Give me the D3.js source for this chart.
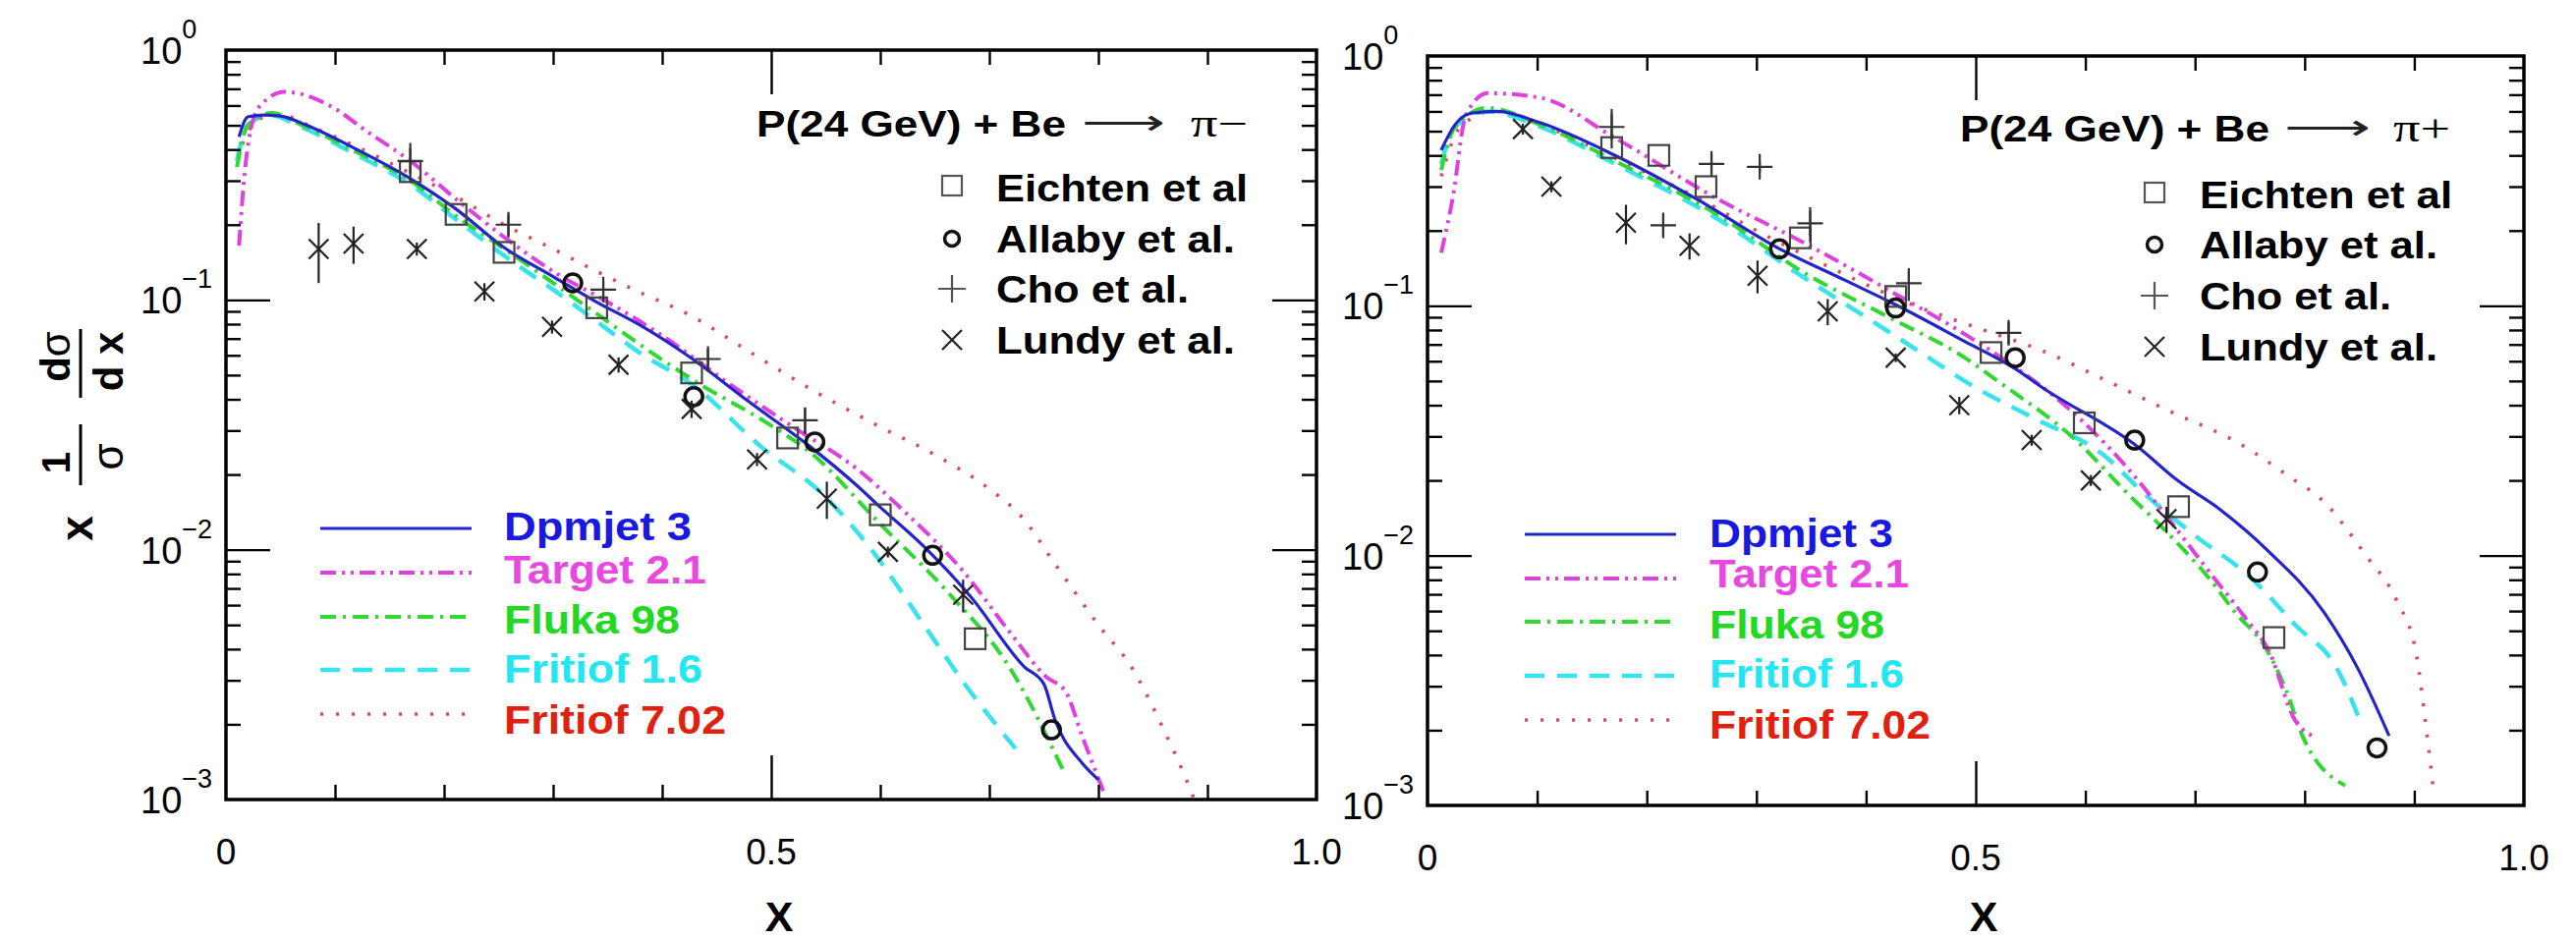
<!DOCTYPE html>
<html>
<head>
<meta charset="utf-8">
<script src="https://cdn.jsdelivr.net/npm/d3@7"></script>
<style>
  body { margin: 0; background: #fff; }
  svg { display: block; }
</style>
</head>
<body>
<svg id="chart" width="2622" height="956"></svg>
<script>
/* Invariant cross sections x (1/sigma) dsigma/dx, P(24 GeV) + Be -> pi-/pi+ */

// ---------------- data ----------------
const xTicksMinor = [0.1, 0.2, 0.3, 0.4, 0.6, 0.7, 0.8, 0.9];
const xTicksMajor = [0.5];
const xTickLabels = [[0, "0"], [0.5, "0.5"], [1, "1.0"]];
const yDecades = [0, -1, -2, -3];
const modelNames = ["Dpmjet 3", "Target 2.1", "Fluka 98", "Fritiof 1.6", "Fritiof 7.02"];
const expNames = ["Eichten et al", "Allaby et al.", "Cho et al.", "Lundy et al."];

// pi- panel, model curves [x, value]
const piMinusDpmjet = [[0.012,0.45],[0.02,0.54],[0.035,0.55],[0.05,0.545],[0.074,0.50],[0.12,0.40],[0.169,0.306],[0.211,0.231],[0.255,0.162],[0.30,0.124],[0.34,0.098],[0.378,0.080],[0.423,0.060],[0.48,0.039],[0.535,0.026],[0.579,0.018],[0.60,0.0148],[0.64,0.0103],[0.684,0.0064],[0.732,0.0034],[0.75,0.0029],[0.76,0.0021],[0.785,0.0014],[0.80,0.0012]];
const piMinusTarget = [[0.012,0.165],[0.018,0.35],[0.03,0.59],[0.054,0.68],[0.095,0.60],[0.13,0.47],[0.169,0.36],[0.215,0.245],[0.26,0.172],[0.30,0.13],[0.35,0.098],[0.40,0.072],[0.459,0.047],[0.52,0.031],[0.579,0.021],[0.62,0.0145],[0.676,0.0082],[0.72,0.0046],[0.752,0.0031],[0.77,0.0027],[0.785,0.0018],[0.806,0.00104]];
const piMinusFluka = [[0.01,0.34],[0.02,0.50],[0.042,0.56],[0.07,0.50],[0.12,0.39],[0.169,0.30],[0.211,0.217],[0.26,0.155],[0.30,0.117],[0.34,0.088],[0.378,0.067],[0.431,0.047],[0.499,0.0316],[0.535,0.0247],[0.599,0.0128],[0.66,0.0069],[0.72,0.0033],[0.768,0.0013]];
const piMinusFritiof16 = [[0.01,0.36],[0.02,0.50],[0.04,0.55],[0.07,0.49],[0.12,0.38],[0.169,0.29],[0.211,0.21],[0.26,0.145],[0.30,0.11],[0.34,0.082],[0.378,0.062],[0.43,0.045],[0.49,0.026],[0.547,0.0167],[0.592,0.010],[0.64,0.0050],[0.68,0.0028],[0.724,0.0016]];
const piMinusFritiof702 = [[0.015,0.42],[0.03,0.53],[0.05,0.55],[0.08,0.49],[0.12,0.41],[0.17,0.32],[0.21,0.26],[0.255,0.20],[0.30,0.16],[0.34,0.13],[0.378,0.108],[0.423,0.088],[0.48,0.062],[0.54,0.043],[0.60,0.031],[0.65,0.024],[0.70,0.0175],[0.73,0.0135],[0.76,0.0088],[0.80,0.0050],[0.832,0.0033],[0.86,0.0019],[0.879,0.00125],[0.888,0.001]];

// pi- panel, measurements [x, value] or [x, value, fractional error]
const piMinusEichten = [[0.169,0.326],[0.211,0.22],[0.255,0.155],[0.34,0.093],[0.427,0.051],[0.515,0.028],[0.60,0.0138],[0.687,0.0044]];
const piMinusAllaby = [[0.318,0.117],[0.429,0.041],[0.54,0.027],[0.648,0.0095],[0.757,0.0019]];
const piMinusCho = [[0.169,0.36,0.18],[0.259,0.20,0.10],[0.346,0.11,0.08],[0.442,0.058,0.10],[0.531,0.033,0.12]];
const piMinusLundy = [[0.085,0.16,0.27],[0.117,0.168,0.17],[0.175,0.16,0.06],[0.237,0.108,0.08],[0.299,0.078,0.06],[0.36,0.055,0.07],[0.427,0.0366,0.08],[0.487,0.023,0.06],[0.551,0.016,0.17],[0.607,0.0098,0.05],[0.676,0.0066,0.15]];

// pi+ panel, model curves
const piPlusDpmjet = [[0.0125,0.42],[0.025,0.53],[0.04,0.59],[0.063,0.60],[0.103,0.54],[0.171,0.40],[0.247,0.265],[0.319,0.171],[0.38,0.127],[0.427,0.101],[0.49,0.072],[0.536,0.056],[0.561,0.047],[0.649,0.027],[0.684,0.020],[0.722,0.0154],[0.764,0.0107],[0.818,0.0059],[0.849,0.0035],[0.877,0.0019]];
const piPlusTarget = [[0.0125,0.163],[0.023,0.27],[0.035,0.58],[0.055,0.71],[0.103,0.68],[0.171,0.47],[0.263,0.27],[0.343,0.179],[0.423,0.114],[0.49,0.077],[0.514,0.066],[0.599,0.034],[0.64,0.022],[0.676,0.014],[0.714,0.0085],[0.745,0.0057],[0.768,0.0041],[0.791,0.0022],[0.807,0.0019]];
const piPlusFluka = [[0.0125,0.35],[0.025,0.52],[0.055,0.62],[0.103,0.53],[0.171,0.38],[0.263,0.234],[0.343,0.136],[0.423,0.089],[0.49,0.062],[0.52,0.05],[0.595,0.028],[0.637,0.018],[0.676,0.0122],[0.714,0.008],[0.737,0.0059],[0.764,0.0043],[0.783,0.0029],[0.798,0.0019],[0.837,0.0012]];
const piPlusFritiof16 = [[0.0125,0.37],[0.025,0.52],[0.055,0.60],[0.103,0.52],[0.171,0.37],[0.263,0.225],[0.343,0.13],[0.40,0.09],[0.443,0.068],[0.50,0.047],[0.55,0.036],[0.618,0.025],[0.652,0.018],[0.695,0.0125],[0.753,0.008],[0.791,0.0053],[0.83,0.0035],[0.852,0.0021]];
const piPlusFritiof702 = [[0.0125,0.33],[0.03,0.52],[0.06,0.60],[0.103,0.53],[0.171,0.39],[0.25,0.265],[0.30,0.20],[0.35,0.155],[0.445,0.10],[0.50,0.082],[0.561,0.066],[0.62,0.05],[0.676,0.038],[0.741,0.028],[0.791,0.020],[0.814,0.017],[0.856,0.010],[0.884,0.0066],[0.902,0.004],[0.91,0.0022],[0.918,0.0011]];

// pi+ panel, measurements
const piPlusEichten = [[0.168,0.43],[0.211,0.40],[0.254,0.30],[0.34,0.187],[0.427,0.109],[0.514,0.065],[0.599,0.034],[0.685,0.0157],[0.772,0.0047]];
const piPlusAllaby = [[0.321,0.169],[0.427,0.098],[0.536,0.062],[0.645,0.029],[0.757,0.0086],[0.866,0.0017]];
const piPlusCho = [[0.168,0.52,0.18],[0.215,0.21,0.10],[0.259,0.37,0.10],[0.303,0.36,0.05],[0.349,0.214,0.16],[0.439,0.123,0.15],[0.53,0.078,0.10]];
const piPlusLundy = [[0.087,0.51,0.05],[0.113,0.30,0.05],[0.181,0.215,0.18],[0.239,0.174,0.12],[0.301,0.132,0.15],[0.365,0.095,0.12],[0.427,0.062,0.04],[0.485,0.04,0.08],[0.551,0.029,0.05],[0.605,0.02,0.05],[0.674,0.014,0.12]];

// ---------------- styles & layout ----------------
(function () {
  const FONT = "'Liberation Sans', Arial, Helvetica, sans-serif";
  const svg = d3.select("#chart");
  svg.append("rect").attr("width", 2622).attr("height", 956).attr("fill", "#fff");

  const modelStyles = [
    { stroke: "#2424cc", text: "#1818e0", width: 3.2, dash: null },
    { stroke: "#e040e0", text: "#e848e0", width: 4,   dash: "16,6,3,6,3,6" },
    { stroke: "#30d830", text: "#22d822", width: 4,   dash: "16,7,3,7" },
    { stroke: "#38e4ec", text: "#22e6f2", width: 4.5, dash: "20,13" },
    { stroke: "#dd4a60", text: "#e22010", width: 3.6, dash: "3,13" }
  ];

  const panels = [
    {
      key: "m", x0: 230, x1: 1340, yTop: 51, yBot: 814,
      curves: [piMinusDpmjet, piMinusTarget, piMinusFluka, piMinusFritiof16, piMinusFritiof702],
      exp: [piMinusEichten, piMinusAllaby, piMinusCho, piMinusLundy],
      title: { x: 770, base: 139, len: 315, arrowX: 1101, arrowLen: 85, piX: 1212, piLen: 58, pi: "\u03c0\u2212" },
      expLeg: { symX: 969, textX: 1014, base: [205, 257, 308, 360], len: [256, 243, 196, 243] },
      modLeg: { lx0: 326, lx1: 480, textX: 513, lineY: [538, 583, 628, 682, 727], base: [550, 594, 645, 695, 747], len: [191, 206, 179, 202, 226] },
      yLabel: true
    },
    {
      key: "p", x0: 1453, x1: 2569, yTop: 57, yBot: 820,
      curves: [piPlusDpmjet, piPlusTarget, piPlusFluka, piPlusFritiof16, piPlusFritiof702],
      exp: [piPlusEichten, piPlusAllaby, piPlusCho, piPlusLundy],
      title: { x: 1995, base: 144, len: 315, arrowX: 2325, arrowLen: 88, piX: 2436, piLen: 58, pi: "\u03c0+" },
      expLeg: { symX: 2193, textX: 2239, base: [212, 263, 315, 367], len: [257, 242, 195, 242] },
      modLeg: { lx0: 1552, lx1: 1706, textX: 1740, lineY: [544, 589, 633, 688, 733], base: [557, 598, 650, 700, 752], len: [187, 203, 178, 198, 225] },
      yLabel: false
    }
  ];

  // minor log ticks 2..9 x 10^k
  const yMinor = [];
  [-3, -2, -1].forEach(k => { for (let m = 2; m <= 9; m++) yMinor.push(m * Math.pow(10, k)); });
  const yMajor = [1e-2, 1e-1];

  // ---------------- marker helpers ----------------
  function square(g, cx, cy, s, color) {
    g.append("rect").attr("x", cx - s / 2).attr("y", cy - s / 2)
      .attr("width", s).attr("height", s)
      .attr("fill", "none").attr("stroke", color).attr("stroke-width", 2.2);
  }
  function circle(g, cx, cy, r) {
    g.append("circle").attr("cx", cx).attr("cy", cy).attr("r", r)
      .attr("fill", "none").attr("stroke", "#111").attr("stroke-width", 3.5);
  }
  function plus(g, cx, cy, a, color) {
    g.append("path").attr("d", `M${cx - a},${cy}H${cx + a}M${cx},${cy - a}V${cy + a}`)
      .attr("stroke", color).attr("stroke-width", 2.2).attr("fill", "none");
  }
  function cross(g, cx, cy, a, color) {
    g.append("path").attr("d", `M${cx - a},${cy - a}L${cx + a},${cy + a}M${cx - a},${cy + a}L${cx + a},${cy - a}`)
      .attr("stroke", color).attr("stroke-width", 2.2).attr("fill", "none");
  }
  function errBar(g, cx, yLo, yHi, color) {
    g.append("line").attr("x1", cx).attr("x2", cx).attr("y1", yLo).attr("y2", yHi)
      .attr("stroke", color).attr("stroke-width", 2.2);
  }

  panels.forEach(p => {
    const x = d3.scaleLinear().domain([0, 1]).range([p.x0, p.x1]);
    const y = d3.scaleLog().domain([1e-3, 1]).range([p.yBot, p.yTop]);
    const g = svg.append("g").attr("class", "panel-" + p.key);

    // clip for curves
    const clipId = "clip-" + p.key;
    svg.append("defs").append("clipPath").attr("id", clipId)
      .append("rect").attr("x", p.x0).attr("y", p.yTop)
      .attr("width", p.x1 - p.x0).attr("height", p.yBot - p.yTop);

    // ---- model curves ----
    const line = d3.line().x(d => x(d[0])).y(d => y(d[1])).curve(d3.curveMonotoneX);
    const cg = g.append("g").attr("clip-path", `url(#${clipId})`);
    // draw back to front: red dotted first, blue last
    [4, 3, 2, 1, 0].forEach(i => {
      const st = modelStyles[i];
      cg.append("path").datum(p.curves[i])
        .attr("d", line)
        .attr("fill", "none")
        .attr("stroke", st.stroke)
        .attr("stroke-width", st.width)
        .attr("stroke-dasharray", st.dash)
        .attr("stroke-linejoin", "round");
    });

    // ---- measurements ----
    const eg = g.append("g");
    const [eich, alla, cho, lund] = p.exp;
    eich.forEach(d => square(eg, x(d[0]), y(d[1]), 21, "#444"));
    alla.forEach(d => circle(eg, x(d[0]), y(d[1]), 9));
    cho.forEach(d => {
      const cx = x(d[0]), cy = y(d[1]);
      plus(eg, cx, cy, 13, "#333");
      errBar(eg, cx, y(d[1] * (1 - d[2])), y(d[1] * (1 + d[2])), "#333");
    });
    lund.forEach(d => {
      const cx = x(d[0]), cy = y(d[1]);
      cross(eg, cx, cy, 10, "#222");
      errBar(eg, cx, y(d[1] * (1 - d[2])), y(d[1] * (1 + d[2])), "#222");
    });

    // ---- axes (ticks inside on all four sides) ----
    const tickStyle = sel => {
      sel.select(".domain").remove();
      sel.selectAll(".tick line").attr("stroke", "#000").attr("stroke-width", 2.4);
      sel.selectAll(".tick text").remove();
    };
    g.append("g").attr("transform", `translate(0,${p.yBot})`)
      .call(d3.axisBottom(x).tickValues(xTicksMinor).tickSize(-15)).call(tickStyle);
    g.append("g").attr("transform", `translate(0,${p.yBot})`)
      .call(d3.axisBottom(x).tickValues(xTicksMajor).tickSize(-45)).call(tickStyle);
    g.append("g").attr("transform", `translate(0,${p.yTop})`)
      .call(d3.axisTop(x).tickValues(xTicksMinor).tickSize(-15)).call(tickStyle);
    g.append("g").attr("transform", `translate(0,${p.yTop})`)
      .call(d3.axisTop(x).tickValues(xTicksMajor).tickSize(-45)).call(tickStyle);
    g.append("g").attr("transform", `translate(${p.x0},0)`)
      .call(d3.axisLeft(y).tickValues(yMinor).tickSize(-15)).call(tickStyle);
    g.append("g").attr("transform", `translate(${p.x0},0)`)
      .call(d3.axisLeft(y).tickValues(yMajor).tickSize(-45)).call(tickStyle);
    g.append("g").attr("transform", `translate(${p.x1},0)`)
      .call(d3.axisRight(y).tickValues(yMinor).tickSize(-15)).call(tickStyle);
    g.append("g").attr("transform", `translate(${p.x1},0)`)
      .call(d3.axisRight(y).tickValues(yMajor).tickSize(-45)).call(tickStyle);

    // frame
    g.append("rect").attr("x", p.x0).attr("y", p.yTop)
      .attr("width", p.x1 - p.x0).attr("height", p.yBot - p.yTop)
      .attr("fill", "none").attr("stroke", "#000").attr("stroke-width", 3.5);

    // y tick labels 10^k
    yDecades.forEach(e => {
      const t = g.append("text")
        .attr("x", p.x0 - 87).attr("y", y(Math.pow(10, e)) + 14)
        .style("font-family", FONT).style("font-size", "38px").attr("fill", "#000");
      t.append("tspan").text("10");
      t.append("tspan").attr("dy", -26).style("font-size", "27px")
        .text(e === 0 ? "0" : "\u2212" + Math.abs(e));
    });

    // x tick labels
    xTickLabels.forEach(([v, s]) => {
      g.append("text").attr("x", x(v)).attr("y", p.yBot + 66)
        .attr("text-anchor", "middle")
        .style("font-family", FONT).style("font-size", "37px").attr("fill", "#000")
        .text(s);
    });

    // x axis title
    g.append("text").attr("x", x(0.5) + 8).attr("y", 948)
      .attr("text-anchor", "middle")
      .style("font-family", FONT).style("font-size", "43px").style("font-weight", 700)
      .text("X");

    // ---- reaction title ----
    const T = p.title;
    g.append("text").attr("x", T.x).attr("y", T.base)
      .attr("textLength", T.len).attr("lengthAdjust", "spacingAndGlyphs")
      .style("font-family", FONT).style("font-size", "37px").style("font-weight", 700)
      .text("P(24 GeV) + Be");
    g.append("text").attr("x", T.arrowX).attr("y", T.base - 2)
      .attr("textLength", T.arrowLen).attr("lengthAdjust", "spacingAndGlyphs")
      .style("font-family", "'DejaVu Sans', sans-serif").style("font-size", "36px")
      .attr("fill", "#222")
      .text("\u27f6");
    g.append("text").attr("x", T.piX).attr("y", T.base)
      .attr("textLength", T.piLen).attr("lengthAdjust", "spacingAndGlyphs")
      .style("font-family", "'Liberation Serif', 'Times New Roman', serif").style("font-size", "40px")
      .text(T.pi);

    // ---- measurement legend ----
    const L = p.expLeg;
    expNames.forEach((name, i) => {
      const cy = L.base[i] - 14;
      if (i === 0) square(g, L.symX, cy - 2, 20, "#555");
      if (i === 1) circle(g, L.symX, cy, 7.5);
      if (i === 2) plus(g, L.symX, cy, 14, "#555");
      if (i === 3) cross(g, L.symX, cy, 10, "#222");
      g.append("text").attr("x", L.textX).attr("y", L.base[i])
        .attr("textLength", L.len[i]).attr("lengthAdjust", "spacingAndGlyphs")
        .style("font-family", FONT).style("font-size", "39px").style("font-weight", 700)
        .text(name);
    });

    // ---- model legend ----
    const M = p.modLeg;
    modelNames.forEach((name, i) => {
      const st = modelStyles[i];
      g.append("line").attr("x1", M.lx0).attr("x2", M.lx1)
        .attr("y1", M.lineY[i]).attr("y2", M.lineY[i])
        .attr("stroke", st.stroke).attr("stroke-width", st.width)
        .attr("stroke-dasharray", st.dash);
      g.append("text").attr("x", M.textX).attr("y", M.base[i])
        .attr("textLength", M.len[i]).attr("lengthAdjust", "spacingAndGlyphs")
        .style("font-family", FONT).style("font-size", "41px").style("font-weight", 700)
        .attr("fill", st.text)
        .text(name);
    });

    // ---- y axis title:  x (1/sigma) (d sigma / d x) ----
    if (p.yLabel) {
      const yl = g.append("g").attr("transform", "rotate(-90)")
        .style("font-family", FONT).attr("text-anchor", "middle");
      // local (u, v) -> screen (v, -u)
      yl.append("text").attr("x", -538).attr("y", 94)
        .style("font-size", "46px").style("font-weight", 700).text("x");
      yl.append("text").attr("x", -471).attr("y", 71)
        .style("font-size", "40px").style("font-weight", 700).text("1");
      yl.append("line").attr("x1", -494).attr("x2", -432).attr("y1", 82).attr("y2", 82)
        .attr("stroke", "#000").attr("stroke-width", 3);
      yl.append("text").attr("x", -465).attr("y", 125)
        .style("font-size", "44px").text("\u03c3");
      const num = yl.append("text").attr("x", -363).attr("y", 71).style("font-size", "42px");
      num.append("tspan").style("font-weight", 700).text("d");
      num.append("tspan").text("\u03c3");
      yl.append("line").attr("x1", -405).attr("x2", -335).attr("y1", 82).attr("y2", 82)
        .attr("stroke", "#000").attr("stroke-width", 3);
      yl.append("text").attr("x", -368).attr("y", 125)
        .style("font-size", "42px").style("font-weight", 700).text("d x");
    }
  });
})();
</script>
</body>
</html>
